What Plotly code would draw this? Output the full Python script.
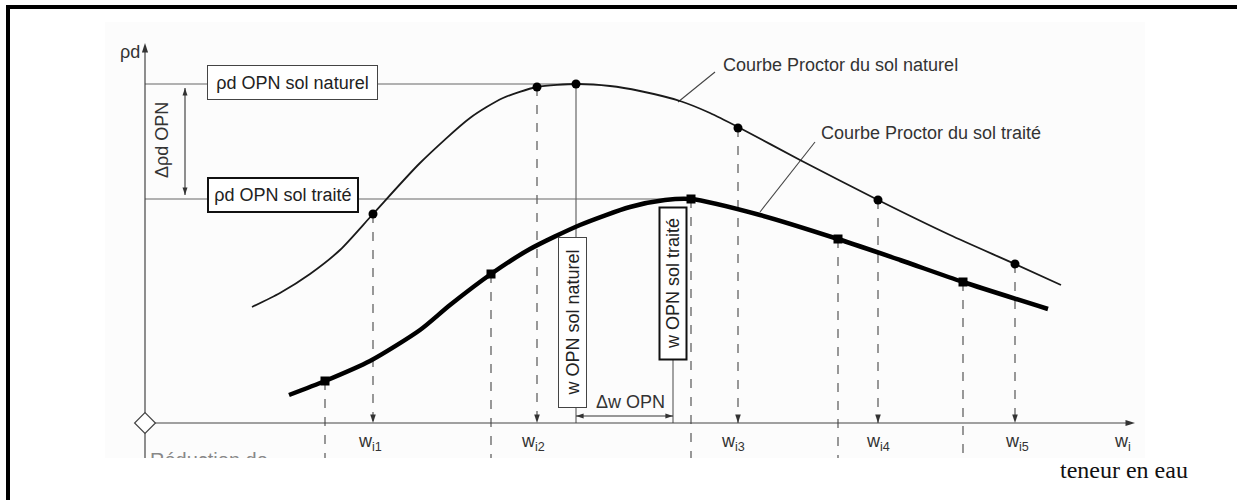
import plotly.graph_objects as go

# ---------------- data (abstract units) ----------------
# natural soil Proctor curve (trace of the curve)
w_nat_curve = [10.7, 13.5, 16.5, 19.5, 22.8, 27.5, 32.5, 35.8, 39.2, 43.2, 46.5, 49.5, 53.5, 56.5, 59.3, 65.5, 73.3, 80.5, 87.0, 91.6]
rho_nat_curve = [11.6, 13.0, 14.9, 17.3, 20.9, 26.0, 30.5, 32.5, 33.6, 33.9, 33.7, 33.2, 32.2, 31.0, 29.6, 26.3, 22.3, 18.8, 15.9, 13.8]
# treated soil Proctor curve
w_trt_curve = [14.4, 18.0, 22.5, 27.5, 30.5, 34.6, 38.5, 43.5, 48.5, 52.0, 54.6, 61.5, 69.3, 75.5, 81.8, 90.3]
rho_trt_curve = [2.8, 4.2, 6.2, 9.3, 11.8, 14.9, 17.4, 19.8, 21.6, 22.3, 22.4, 20.8, 18.4, 16.3, 14.1, 11.4]

# measured points
w_nat_pts = [22.8, 39.2, 59.3, 73.3, 87.0]
rho_nat_pts = [20.9, 33.6, 29.5, 22.3, 15.9]
w_trt_pts = [18.0, 34.6, 54.6, 69.3, 81.8]
rho_trt_pts = [4.2, 14.9, 22.4, 18.4, 14.1]

# optimum (OPN) values
w_opn_nat, rho_opn_nat = 43.1, 33.9
w_opn_trt, rho_opn_trt = 52.8, 22.4
w_peak_trt = 54.6

# tick labels on the w axis
w_tick_pos = [22.5, 38.8, 58.8, 73.3, 87.2]
w_tick_txt = ["w<sub>i1</sub>", "w<sub>i2</sub>", "w<sub>i3</sub>", "w<sub>i4</sub>", "w<sub>i5</sub>"]

w_axis_end, rho_axis_end = 99.0, 38.0
cut_bottom = -3.5

FONT = "Liberation Sans, Arial, sans-serif"
FS = 18
INK = "#1a1a1a"
GRAY = "#555555"

fig = go.Figure()


def seg(xs, ys, color, width, dash=None):
    fig.add_trace(go.Scatter(x=xs, y=ys, mode="lines",
                             line=dict(color=color, width=width, dash=dash), hoverinfo="skip"))


def heads(xs, ys, angles, size=9, color="#333"):
    fig.add_trace(go.Scatter(x=xs, y=ys, mode="markers",
                             marker=dict(symbol="arrow", size=size, angle=angles, color=color,
                                         line=dict(width=0)),
                             hoverinfo="skip"))


# dashed projections from natural points (with arrows)
for w, r in zip(w_nat_pts, rho_nat_pts):
    seg([w, w], [r, 0], GRAY, 1.2, "dash")
# dashed projections from treated points (through the axis)
for w, r in zip(w_trt_pts, rho_trt_pts):
    seg([w, w], [r, cut_bottom], GRAY, 1.2, "dash")

# reference lines for the optima
seg([0, w_opn_nat], [rho_opn_nat, rho_opn_nat], "#666", 1.2)
seg([0, w_peak_trt], [rho_opn_trt, rho_opn_trt], "#666", 1.2)
seg([w_opn_nat, w_opn_nat], [rho_opn_nat, 0], "#666", 1.2)
seg([w_opn_trt, w_opn_trt], [10, 0], "#666", 1.2)

# leader lines to curve names
seg([53.3, 57.0], [32.1, 35.1], "#444", 1.1)
seg([61.5, 67.0], [21.1, 28.1], "#444", 1.1)

# delta arrows (shafts)
seg([4.0, 4.0], [rho_opn_nat - 0.4, rho_opn_trt + 0.4], "#333", 1.1)
seg([w_opn_nat, w_opn_trt], [0.7, 0.7], "#333", 1.1)

# axes
seg([0, 0], [cut_bottom, rho_axis_end - 0.5], "#444", 1.2)
seg([0, w_axis_end - 0.5], [0, 0], "#444", 1.2)

# arrow heads
heads([0, w_axis_end], [rho_axis_end, 0], [0, 90], size=10)
heads(w_nat_pts, [0] * len(w_nat_pts), [180] * len(w_nat_pts), size=9)
heads([4.0, 4.0], [rho_opn_nat - 0.4, rho_opn_trt + 0.4], [0, 180], size=8)
heads([w_opn_nat, w_opn_trt], [0.7, 0.7], [270, 90], size=8)

# curves
fig.add_trace(go.Scatter(x=w_nat_curve, y=rho_nat_curve, mode="lines",
                         line=dict(color=INK, width=1.8, shape="spline", smoothing=0.7), hoverinfo="skip"))
fig.add_trace(go.Scatter(x=w_trt_curve, y=rho_trt_curve, mode="lines",
                         line=dict(color="#000", width=4.5, shape="spline", smoothing=0.7), hoverinfo="skip"))

# markers
fig.add_trace(go.Scatter(x=w_nat_pts + [w_opn_nat], y=rho_nat_pts + [rho_opn_nat], mode="markers",
                         marker=dict(symbol="circle", size=9, color="#000"), hoverinfo="skip"))
fig.add_trace(go.Scatter(x=w_trt_pts, y=rho_trt_pts, mode="markers",
                         marker=dict(symbol="square", size=9, color="#000"), hoverinfo="skip"))

# origin diamond
fig.add_trace(go.Scatter(x=[0], y=[0], mode="markers",
                         marker=dict(symbol="diamond", size=16, color="white", line=dict(color="#444", width=1.2)),
                         hoverinfo="skip"))

# cropped caption at the bottom of the scan
fig.add_trace(go.Scatter(x=[0.5], y=[-3.9], mode="text", text=["Réduction de"], textposition="middle right",
                         textfont=dict(family=FONT, size=20, color="#888"), hoverinfo="skip"))

annotations = []
# text labels
annotations.append(dict(x=-1.5, y=37.1, xref="x", yref="y", text="ρd", showarrow=False,
                        font=dict(family=FONT, size=FS, color="#333")))
annotations.append(dict(x=1.7, y=28.3, xref="x", yref="y", text="Δρd OPN", textangle=-90, showarrow=False,
                        font=dict(family=FONT, size=FS, color="#333")))
annotations.append(dict(x=48.5, y=2.1, xref="x", yref="y", text="Δw OPN", showarrow=False,
                        font=dict(family=FONT, size=FS, color="#333")))
annotations.append(dict(x=57.6, y=35.8, xref="x", yref="y", text="Courbe Proctor du sol naturel", xanchor="left",
                        showarrow=False, font=dict(family=FONT, size=FS, color="#333")))
annotations.append(dict(x=67.4, y=29.0, xref="x", yref="y", text="Courbe Proctor du sol traité", xanchor="left",
                        showarrow=False, font=dict(family=FONT, size=FS, color="#333")))
for w, t in zip(w_tick_pos, w_tick_txt):
    annotations.append(dict(x=w, y=-1.9, xref="x", yref="y", text=t, showarrow=False,
                            font=dict(family=FONT, size=FS, color="#333")))
annotations.append(dict(x=97.7, y=-1.9, xref="x", yref="y", text="w<sub>i</sub>", showarrow=False,
                        font=dict(family=FONT, size=FS, color="#333")))
annotations.append(dict(x=97.9, y=-4.7, xref="x", yref="y", text="teneur en eau", showarrow=False,
                        font=dict(family="Liberation Serif, Times New Roman, serif", size=24, color="#111")))

# boxed labels
annotations.append(dict(x=6.2, y=34.05, xref="x", yref="y", xanchor="left", text="ρd OPN sol naturel",
                        showarrow=False, bgcolor="white", bordercolor="#444", borderwidth=1, borderpad=3,
                        width=163, height=27, font=dict(family=FONT, size=FS, color="#222")))
annotations.append(dict(x=6.2, y=22.8, xref="x", yref="y", xanchor="left", text="ρd OPN sol traité",
                        showarrow=False, bgcolor="white", bordercolor="#111", borderwidth=2, borderpad=3,
                        width=142, height=26, font=dict(family=FONT, size=FS, color="#222")))
annotations.append(dict(x=42.75, y=10.05, xref="x", yref="y", text="w OPN sol naturel", textangle=-90,
                        showarrow=False, bgcolor="white", bordercolor="#444", borderwidth=1, borderpad=3,
                        width=163, height=21, font=dict(family=FONT, size=FS, color="#222")))
annotations.append(dict(x=52.75, y=13.9, xref="x", yref="y", text="w OPN sol traité", textangle=-90,
                        showarrow=False, bgcolor="white", bordercolor="#111", borderwidth=2, borderpad=3,
                        width=144, height=19, font=dict(family=FONT, size=FS, color="#222")))

W, H = 1237, 500
shapes = [
    # faint scan background
    dict(type="rect", xref="paper", yref="paper", x0=105 / W, x1=1145 / W, y0=1 - 458 / H, y1=1 - 22 / H,
         fillcolor="#fcfcfc", line=dict(width=0), layer="below"),
    # crop the bottom of the scan
    dict(type="rect", xref="paper", yref="paper", x0=0, x1=1, y0=0, y1=1 - 458 / H,
         fillcolor="white", line=dict(width=0), layer="above"),
    # frame
    dict(type="rect", xref="paper", yref="paper", x0=6 / W, x1=1, y0=1 - 9 / H, y1=1 - 5 / H,
         fillcolor="black", line=dict(width=0), layer="above"),
    dict(type="rect", xref="paper", yref="paper", x0=6 / W, x1=10 / W, y0=0, y1=1 - 5 / H,
         fillcolor="black", line=dict(width=0), layer="above"),
]

fig.update_layout(
    width=W, height=H, margin=dict(l=0, r=0, t=0, b=0),
    paper_bgcolor="white", plot_bgcolor="rgba(0,0,0,0)",
    showlegend=False,
    xaxis=dict(range=[-14.5, 109.2], visible=False, fixedrange=True),
    yaxis=dict(range=[-7.7, 42.3], visible=False, fixedrange=True),
    annotations=annotations, shapes=shapes,
)

fig.write_html("out.html", config={"displayModeBar": False},
               post_script="document.body.style.margin='0';document.body.style.padding='0';"
                           "document.body.style.overflow='hidden';")
